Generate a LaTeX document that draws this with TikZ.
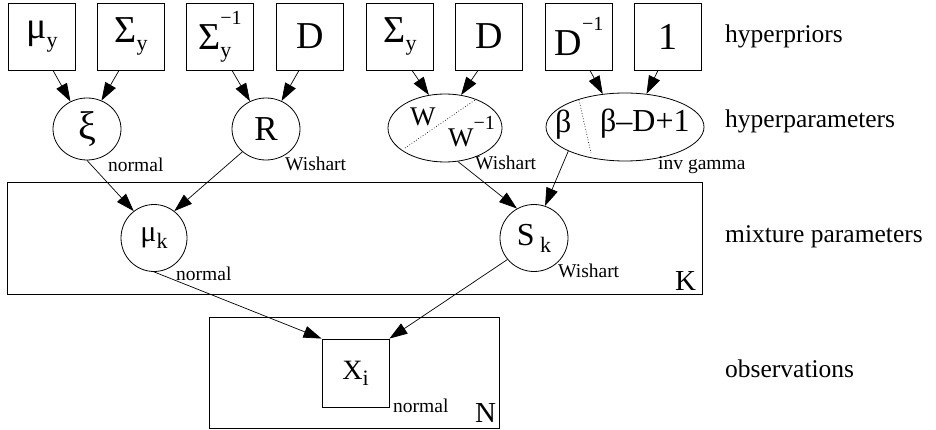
\documentclass[tikz,border=0pt]{standalone}
\usepackage{fontspec}
\setmainfont{Liberation Serif}
\usepackage{graphicx}
\usetikzlibrary{shapes.geometric,arrows.meta,calc}

% lowered / raised indices in a smaller size
\newcommand\lo[1]{\raisebox{-0.22em}{\fontsize{22}{22}\selectfont #1}}
\newcommand\hi[1]{\raisebox{0.66em}{\fontsize{20}{20}\selectfont #1}}

\begin{document}
\begin{tikzpicture}[x=1pt,y=-1pt,
  prior/.style={draw, line width=0.9pt, minimum width=67pt, minimum height=67pt,
    inner sep=0pt, font=\fontsize{38}{40}\selectfont},
  rv/.style={draw, ellipse, line width=0.8pt, inner sep=0pt},
  plate/.style={draw, line width=0.9pt, inner sep=0pt},
  dist/.style={anchor=base west, inner sep=0pt, font=\fontsize{19.5}{20}\selectfont},
  side/.style={anchor=base west, inner sep=0pt, font=\fontsize{25.5}{27}\selectfont},
  platelbl/.style={anchor=base west, inner sep=0pt, font=\fontsize{29}{30}\selectfont},
  edge/.style={-{Triangle[length=18pt,width=12pt]}, line width=0.7pt}]
\useasboundingbox (0,0) rectangle (936,430);

% hyperpriors
\node[prior] (b1) at (42,36.5)  {μ\lo{y}};
\node[prior] (b2) at (131,36.5) {Σ\lo{y}};
\node[prior] (b3) at (220,36.5) {Σ\makebox[0pt][l]{\lo{y}}\hi{−1}};
\node[prior] (b4) at (310,36.5) {D};
\node[prior] (b5) at (400,36.5) {Σ\lo{y}};
\node[prior] (b6) at (489,36.5) {D};
\node[prior] (b7) at (579,36.5) {D\hi{−1}};
\node[prior] (b8) at (668,36.5) {1};

% hyperparameters
\node[rv, minimum width=68pt, minimum height=62pt, font=\fontsize{40}{42}\selectfont] (xi) at (87,129) {ξ};
\node[rv, minimum width=68pt, minimum height=62pt, font=\fontsize{35}{36}\selectfont] (R) at (266,129) {R};
\node[rv, minimum width=114pt, minimum height=68pt] (W) at (445,128) {};
\node[rv, minimum width=158pt, minimum height=68pt] (be) at (625,127) {};

\draw[dotted, line width=0.7pt] ($(W)+(-40,20)$) -- ($(W)+(30,-28)$);
\node[anchor=base west, inner sep=0pt, font=\fontsize{27}{28}\selectfont] (Wa) at (410,126) {W};
\node[anchor=base west, inner sep=0pt, font=\fontsize{27}{28}\selectfont] (Wb) at (448,147) {W\hi{−1}};

\draw[dotted, line width=0.7pt] ($(be)+(-46,-27)$) -- ($(be)+(-34,26)$);
\node[anchor=base west, inner sep=0pt, font=\fontsize{32}{34}\selectfont] (ba) at (555,133) {β};
\node[anchor=base west, inner sep=0pt, font=\fontsize{32}{34}\selectfont] (bb) at (600,132) {β–D+1};

\node[dist] (d1) at (108,172) {normal};
\node[dist] (d2) at (285,171) {Wishart};
\node[dist] (d3) at (475,170) {Wishart};
\node[dist] (d4) at (658,170) {inv gamma};

% mixture parameters plate
\node[plate, minimum width=695pt, minimum height=112pt] (Kp) at (354.5,238) {};
\node[platelbl] (K) at (675,290) {K};
\node[rv, minimum width=66pt, minimum height=67pt, font=\fontsize{30}{32}\selectfont] (mu) at (154,238) {μ\lo{k}};
\node[rv, minimum width=68pt, minimum height=67pt, font=\fontsize{32}{34}\selectfont] (S) at (534,238) {S\,\lo{k}};
\node[dist] (d5) at (176,280) {normal};
\node[dist] (d6) at (558,277) {Wishart};

% observations plate
\node[plate, minimum width=290pt, minimum height=111pt] (Np) at (354,372.5) {};
\node[platelbl] (N) at (475,422) {N};
\node[prior, minimum height=68pt, font=\fontsize{28}{30}\selectfont] (x) at (355.5,373) {X\lo{i}};
\node[dist] (d7) at (393,412) {normal};

% level captions
\node[side] (t1) at (725,43)  {hyperpriors};
\node[side] (t2) at (725,128) {hyperparameters};
\node[side] (t3) at (725,243) {mixture parameters};
\node[side] (t4) at (725,377) {observations};

% dependencies
\draw[edge] ([xshift=11pt]b1.south)  -- (xi.121);
\draw[edge] ([xshift=-12pt]b2.south) -- (xi.63);
\draw[edge] ([xshift=12pt]b3.south)  -- (R.120);
\draw[edge] ([xshift=-11pt]b4.south) -- (R.61);
\draw[edge] ([xshift=12pt]b5.south)  -- (W.116);
\draw[edge] ([xshift=-11pt]b6.south) -- (W.64);
\draw[edge] ([xshift=11pt]b7.south)  -- (be.124);
\draw[edge] ([xshift=-10pt]b8.south) -- (be.57);

\draw[edge] (xi.270) -- (mu.127);
\draw[edge] (R.224)  -- (mu.53);
\draw[edge] (W.291)  -- (S.120);
\draw[edge] (be.203) -- (S.71);

\draw[edge] (mu.270) -- (x.north west);
\draw[edge] (S.219)  -- (x.north east);
\end{tikzpicture}
\end{document}
